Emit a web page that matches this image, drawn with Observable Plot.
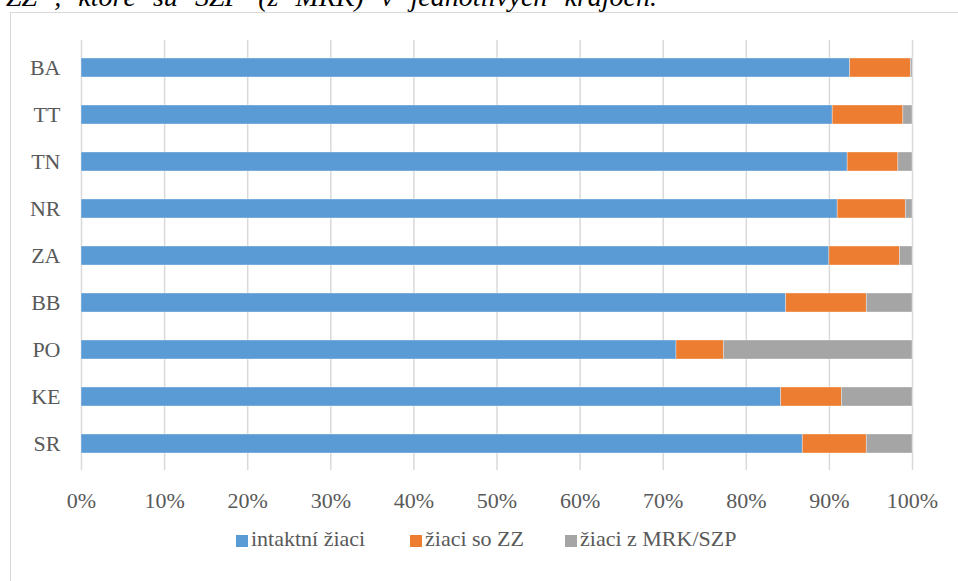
<!DOCTYPE html>
<html>
<head>
<meta charset="utf-8">
<script src="https://cdn.jsdelivr.net/npm/d3@7"></script>
<script src="https://cdn.jsdelivr.net/npm/@observablehq/plot@0.6"></script>
<style>
  html, body { margin: 0; padding: 0; background: #fff; overflow: hidden; }
  body { width: 958px; height: 581px; position: relative; font-family: "Liberation Serif", "Times New Roman", serif; }
  #heading { position: absolute; left: 6px; top: -17px; width: 651px; font-size: 28px; line-height: 28px; font-style: italic; color: #000; white-space: nowrap; text-align: justify; text-align-last: justify; }
  #box { position: absolute; left: 10px; top: 12px; width: 1000px; height: 1000px; border: 1.5px solid #d9d9d9; box-sizing: border-box; }
  #chart { position: absolute; left: 0; top: 0; }
  #legend { position: absolute; left: 0; top: 528px; width: 958px; height: 22px; font-size: 22px; line-height: 22px; color: #595959; }
  .item { position: absolute; top: 0; white-space: nowrap; }
  .sw { position: absolute; top: 7px; width: 12px; height: 12px; }
</style>
</head>
<body>
<div id="heading">ZZ , ktoré sú SZP (z MRK) v jednotlivých krajoch.</div>
<div id="box"></div>
<div id="chart"></div>
<div id="legend"></div>
<script>
const categories = ["BA", "TT", "TN", "NR", "ZA", "BB", "PO", "KE", "SR"];
const intaktni = [92.5, 90.4, 92.2, 91.0, 90.0, 84.8, 71.6, 84.2, 86.8];
const soZZ     = [7.3, 8.5, 6.1, 8.2, 8.5, 9.7, 5.7, 7.3, 7.7];
const zMRK     = [0.2, 1.1, 1.7, 0.8, 1.5, 5.5, 22.7, 8.5, 5.5];
const seriesNames = ["intaktní žiaci", "žiaci so ZZ", "žiaci z MRK/SZP"];
const seriesColors = ["#5b9bd5", "#ed7d31", "#a5a5a5"];
const xTicks = [0, 10, 20, 30, 40, 50, 60, 70, 80, 90, 100];
const xTickLabels = ["0%", "10%", "20%", "30%", "40%", "50%", "60%", "70%", "80%", "90%", "100%"];

const seriesValues = [intaktni, soZZ, zMRK];
const data = categories.flatMap((kraj, i) =>
  seriesNames.map((typ, s) => ({kraj, typ, v: seriesValues[s][i]}))
);

const fontFamily = '"Liberation Serif", "Times New Roman", serif';

const chart = Plot.plot({
  width: 958,
  height: 515,
  marginLeft: 81,
  marginRight: 46,
  marginTop: 40,
  marginBottom: 45,
  style: {fontFamily, fontSize: "22px", color: "#595959", background: "transparent", overflow: "visible"},
  x: {domain: [0, 100]},
  y: {domain: categories, paddingInner: 0.6, paddingOuter: 0.3},
  color: {domain: seriesNames, range: seriesColors},
  marks: [
    Plot.ruleX(xTicks, {stroke: "#d9d9d9", strokeWidth: 1.5}),
    Plot.barX(data, Plot.stackX({
      x: "v", y: "kraj", fill: "typ", order: seriesNames,
      stroke: "#ffffff", strokeOpacity: 0.45, strokeWidth: 0.75
    })),
    Plot.axisX({
      ticks: xTicks,
      tickFormat: (d) => xTickLabels[xTicks.indexOf(d)],
      tickSize: 0, tickPadding: 22, label: null,
      fill: "#595959", fontSize: 22
    }),
    Plot.axisY({
      tickSize: 0, tickPadding: 21, label: null,
      fill: "#595959", fontSize: 22
    })
  ]
});
document.getElementById("chart").appendChild(chart);

// Legend (HTML, below the chart area)
const legendX = [236, 410, 565];
const legend = document.getElementById("legend");
seriesNames.forEach((name, i) => {
  const item = document.createElement("div");
  item.className = "item";
  item.style.left = legendX[i] + "px";
  const sw = document.createElement("span");
  sw.className = "sw";
  sw.style.left = "0px";
  sw.style.background = seriesColors[i];
  const t = document.createElement("span");
  t.style.position = "absolute";
  t.style.left = "15px";
  t.textContent = name;
  item.appendChild(sw);
  item.appendChild(t);
  legend.appendChild(item);
});
</script>
</body>
</html>
